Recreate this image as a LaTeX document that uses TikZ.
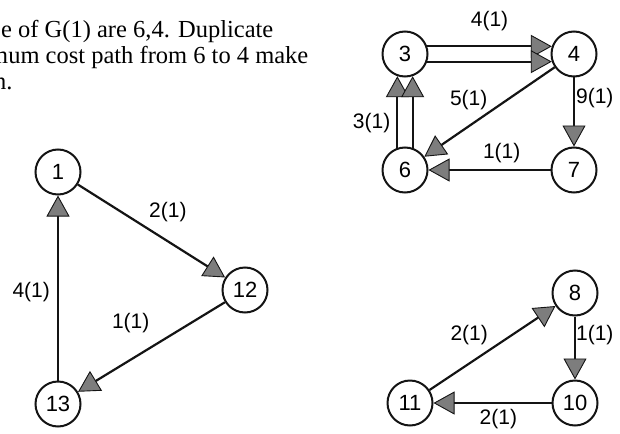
\documentclass[tikz,border=0pt]{standalone}
\usepackage{fontspec}
\setmainfont{Liberation Serif}
\newfontfamily\numfont{Liberation Sans}
\usepackage{xcolor}
\definecolor{ink}{RGB}{20,20,20}
\definecolor{tipgray}{RGB}{125,125,125}
\usetikzlibrary{arrows.meta,positioning}

\begin{document}
\begin{tikzpicture}[
  x=1pt,y=-1pt,
  vtx/.style={circle,draw=ink,line width=2pt,minimum size=45pt,inner sep=0pt,
              font=\numfont\fontsize{22}{22}\selectfont},
  ar/.style={-{Triangle[length=21pt,width=23pt,line width=0.9pt,fill=tipgray]},
             draw=ink,line width=2.2pt},
  wt/.style={font=\numfont\fontsize{21}{21}\selectfont,inner sep=1pt},
  txt/.style={anchor=base west,inner sep=0pt,font=\fontsize{24.5}{26}\selectfont},
  on grid,
]
  \useasboundingbox (0,0) rectangle (620,433);
  \clip (0,0) rectangle (620,433);
  % note text, cut at the left edge
  \node[txt] (line1) at (1,38) {e of G(1) are 6,4. Duplicate};
  \node[txt] (line2) at (-11,64) {mum cost path from 6 to 4 make};
  \node[txt] (line3) at (-6,89) {n.};

  % left triangle
  \node[vtx] (v1) at (58,172) {1};
  \node[vtx,below=232pt of v1] (v13) {13};
  \node[vtx] (v12) at (245,290) {12};
  \draw[ar] (v1) -- (v12) node[wt,pos=0.47,anchor=south west,yshift=4pt] (w1) {2(1)};
  \draw[ar] (v12) -- (v13) node[wt,midway,anchor=south east,yshift=12pt] (w2) {1(1)};
  \draw[ar] (v13) -- (v1) node[wt,pos=0.48,left=6pt] (w3) {4(1)};

  % upper right graph
  \node[vtx] (v3) at (405,54) {3};
  \node[vtx,right=169pt of v3] (v4) {4};
  \node[vtx,below=116pt of v3] (v6) {6};
  \node[vtx,below=116pt of v4] (v7) {7};
  \draw[ar] (v3.19) -- (v4.161) node[wt,midway,above=13pt] (w4) {4(1)};
  \draw[ar] (v3.-19) -- (v4.-161);
  \draw[ar] (v6.109) -- (v3.251) node[wt,pos=0.35,left=5pt] (w5) {3(1)};
  \draw[ar] (v6.71) -- (v3.289);
  \draw[ar] (v4) -- (v6) node[wt,midway,anchor=south east] (w6) {5(1)};
  \draw[ar] (v4) -- (v7) node[wt,pos=0.3,anchor=west] (w7) {9(1)};
  \draw[ar] (v7) -- (v6) node[wt,pos=0.4,above=5pt] (w8) {1(1)};

  % lower right graph
  \node[vtx] (v8) at (575,293) {8};
  \node[vtx,below=110pt of v8] (v10) {10};
  \node[vtx,left=165pt of v10] (v11) {11};
  \draw[ar] (v11) -- (v8) node[wt,pos=0.48,anchor=south east,yshift=3pt] (w9) {2(1)};
  \draw[ar] (v8) -- (v10) node[wt,pos=0.3,anchor=west,xshift=-1pt] (w10) {1(1)};
  \draw[ar] (v10) -- (v11) node[wt,pos=0.45,below=4pt] (w11) {2(1)};
\end{tikzpicture}
\end{document}
